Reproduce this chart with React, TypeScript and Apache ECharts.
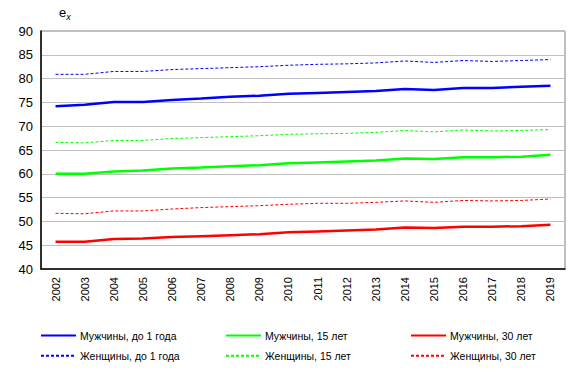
import React, { useEffect, useRef } from "react";
import * as echarts from "echarts";

const years = ["2002","2003","2004","2005","2006","2007","2008","2009","2010","2011","2012","2013","2014","2015","2016","2017","2018","2019"];
const men0 = [74.2, 74.5, 75.1, 75.1, 75.5, 75.8, 76.2, 76.4, 76.8, 77.0, 77.2, 77.4, 77.8, 77.6, 78.0, 78.0, 78.3, 78.5];
const men15 = [60.0, 60.0, 60.5, 60.7, 61.1, 61.3, 61.6, 61.8, 62.2, 62.4, 62.6, 62.8, 63.2, 63.1, 63.5, 63.5, 63.6, 64.0];
const men30 = [45.7, 45.7, 46.3, 46.4, 46.7, 46.9, 47.1, 47.3, 47.7, 47.9, 48.1, 48.3, 48.7, 48.6, 48.9, 48.9, 49.0, 49.3];
const women0 = [80.9, 80.9, 81.5, 81.5, 81.9, 82.1, 82.3, 82.5, 82.8, 83.0, 83.1, 83.3, 83.7, 83.4, 83.8, 83.6, 83.8, 84.0];
const women15 = [66.6, 66.5, 67.0, 67.0, 67.4, 67.6, 67.8, 68.0, 68.3, 68.4, 68.5, 68.7, 69.1, 68.8, 69.2, 69.0, 69.1, 69.3];
const women30 = [51.7, 51.6, 52.2, 52.2, 52.6, 52.9, 53.1, 53.3, 53.6, 53.8, 53.8, 54.0, 54.3, 54.0, 54.4, 54.3, 54.4, 54.7];

const names = {
  m0: "Мужчины, до 1 года",
  m15: "Мужчины, 15 лет",
  m30: "Мужчины, 30 лет",
  w0: "Женщины, до 1 года",
  w15: "Женщины, 15 лет",
  w30: "Женщины, 30 лет",
};

const FONT = "'Liberation Sans', Arial, sans-serif";

export default function App() {
  const ref = useRef<HTMLDivElement>(null);
  useEffect(() => {
    if (!ref.current) return;
    const chart = echarts.init(ref.current, null, { renderer: "svg" });
    const solid = (name: string, data: number[], color: string) => ({
      name, type: "line", data, symbol: "none", smooth: false,
      lineStyle: { color, width: 2.5, type: "solid" }, itemStyle: { color },
    });
    const dashed = (name: string, data: number[], color: string) => ({
      name, type: "line", data, symbol: "none", smooth: false,
      lineStyle: { color, width: 1, type: [3, 2] }, itemStyle: { color },
    });
    const legendBase = {
      orient: "vertical", top: 330, itemWidth: 35, itemHeight: 14, itemGap: 9,
      textStyle: { fontFamily: FONT, fontSize: 10.5, color: "#000", padding: [0, 0, 0, -1] },
      itemStyle: { opacity: 0 },
      padding: 0,
    };
    chart.setOption({
      animation: false,
      backgroundColor: "#fff",
      grid: { left: 41, right: 14, top: 31, bottom: 106, show: true, borderColor: "#808080", borderWidth: 1 },
      xAxis: {
        type: "category", data: years, boundaryGap: true,
        axisLine: { lineStyle: { color: "#000", width: 1.5 } },
        axisTick: { show: false },
        axisLabel: { rotate: 90, fontFamily: FONT, fontSize: 11, color: "#000", margin: 8, interval: 0 },
      },
      yAxis: {
        type: "value", min: 40, max: 90, interval: 5,
        axisLine: { show: true, lineStyle: { color: "#000", width: 1.5 } },
        axisTick: { show: false },
        splitLine: { lineStyle: { color: "#c0c0c0", width: 1 } },
        axisLabel: { fontFamily: FONT, fontSize: 13, color: "#000", margin: 8 },
      },
      legend: [
        { ...legendBase, left: 40, data: [names.m0, names.w0] },
        { ...legendBase, left: 225, data: [names.m15, names.w15] },
        { ...legendBase, left: 410, data: [names.m30, names.w30] },
      ],
      graphic: [
        {
          type: "text", left: 59, top: 6,
          style: {
            text: "{a|e}{b|x}",
            rich: {
              a: { fontFamily: FONT, fontSize: 13, fill: "#000" },
              b: { fontFamily: FONT, fontSize: 9, fontStyle: "italic", fill: "#000", padding: [8, 0, 0, 0] },
            },
          },
        },
      ],
      series: [
        solid(names.m0, men0, "#0000ff"),
        solid(names.m15, men15, "#00ff00"),
        solid(names.m30, men30, "#ff0000"),
        dashed(names.w0, women0, "#0000ff"),
        dashed(names.w15, women15, "#00ff00"),
        dashed(names.w30, women30, "#ff0000"),
      ],
    });
    return () => chart.dispose();
  }, []);
  return <div ref={ref} style={{ position: "fixed", left: 0, top: 0, width: 579, height: 375 }} />;
}
